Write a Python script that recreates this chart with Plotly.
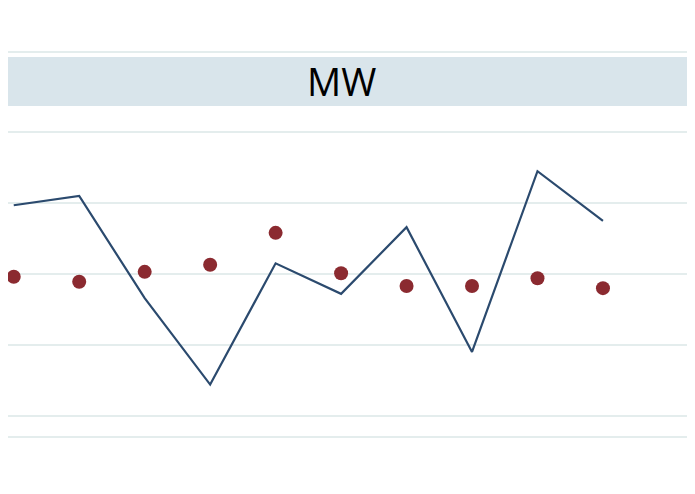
import plotly.graph_objects as go

x_idx = list(range(10))
line_vals = [0.97, 1.10, -0.34, -1.56, 0.15, -0.28, 0.66, -1.10, 1.45, 0.75]
dot_vals = [-0.04, -0.11, 0.03, 0.13, 0.58, 0.01, -0.17, -0.17, -0.06, -0.20]
panel_title = "MW"

W, H = 695, 494
OFF = 8  # page body margin
fig = go.Figure()
fig.add_trace(go.Scatter(x=x_idx, y=line_vals, mode="lines",
                         line=dict(color="#2b4a6e", width=2.2), showlegend=False))
fig.add_trace(go.Scatter(x=x_idx, y=dot_vals, mode="markers",
                         marker=dict(color="#8b2a30", size=14), showlegend=False))

def px(p): return (p - OFF) / W
def py(p): return 1 - (p - OFF) / H
fig.update_layout(
    width=W, height=H, margin=dict(l=0, r=0, t=0, b=0, autoexpand=False),
    paper_bgcolor="white", plot_bgcolor="white",
    xaxis=dict(domain=[0, px(692)], range=[-0.21 + 8 / 65.4, 10.36 - 0 / 65.4],
               showgrid=False, showticklabels=False, zeroline=False, ticks=""),
    yaxis=dict(domain=[py(437), py(106)], range=[-2.30, 2.37],
               tickvals=[-2, -1, 0, 1, 2], showticklabels=False,
               gridcolor="#e4eded", gridwidth=2, zeroline=False),
    shapes=[
        dict(type="rect", xref="paper", yref="paper", x0=-0.01, x1=px(692),
             y0=py(437), y1=py(52), line=dict(color="#e4eded", width=2),
             fillcolor="rgba(0,0,0,0)", layer="below"),
        dict(type="rect", xref="paper", yref="paper", x0=-0.01, x1=px(690),
             y0=py(106), y1=py(57), line=dict(width=0), fillcolor="#d9e5eb",
             layer="below"),
    ],
    annotations=[dict(text=panel_title, xref="paper", yref="paper",
                      x=px(341), y=py(81), xanchor="center", yanchor="middle",
                      showarrow=False,
                      font=dict(family="Open Sans", size=38, color="black"))],
)
fig.write_html("out.html")
